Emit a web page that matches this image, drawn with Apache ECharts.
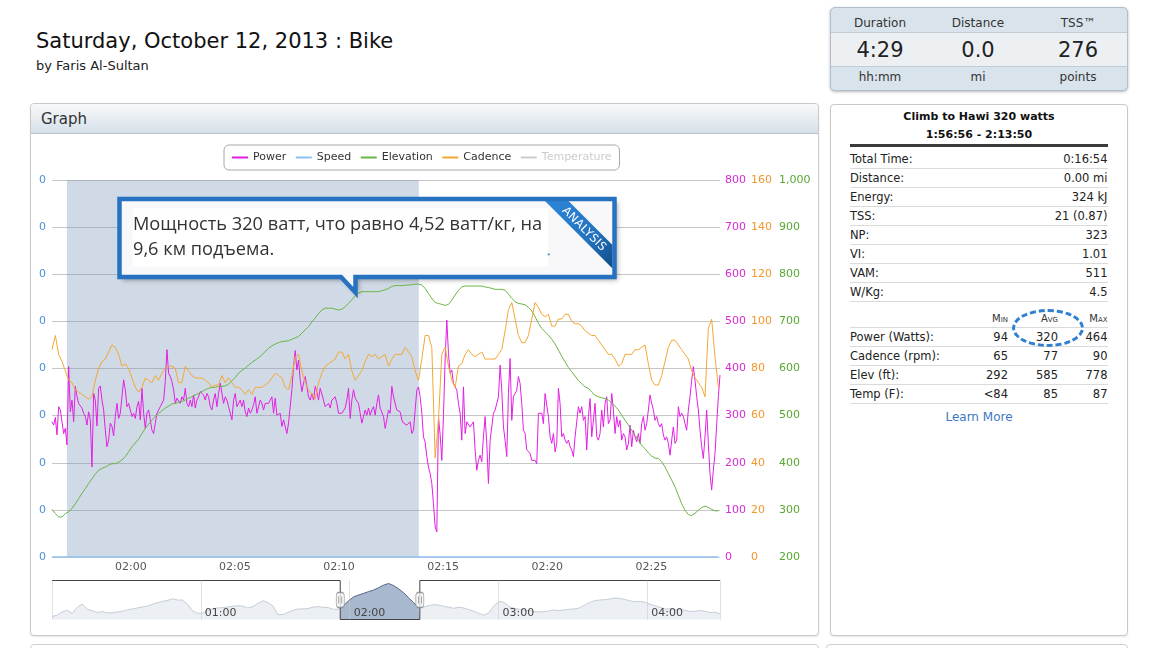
<!DOCTYPE html>
<html>
<head>
<meta charset="utf-8">
<script src="https://cdn.jsdelivr.net/npm/echarts@6.0.0/dist/echarts.min.js"></script>
<style>
html,body{margin:0;padding:0;width:1150px;height:648px;overflow:hidden;background:#fff;font-family:"DejaVu Sans",sans-serif;color:#222;}
.a{position:absolute;white-space:nowrap;}
#title{left:36px;top:31px;font-size:21px;line-height:21px;color:#111;}
#by{left:36px;top:59px;font-size:13px;line-height:13px;color:#222;}
#graphPanel{left:30px;top:103px;width:787px;height:531px;border:1px solid #c9c9c9;border-radius:4px;box-shadow:0 1px 2px rgba(0,0,0,0.10);background:#fff;}
#graphHead{position:absolute;left:0;top:0;width:777px;height:29px;padding-left:10px;border-bottom:1px solid #b7c3ce;border-radius:4px 4px 0 0;background:linear-gradient(#f7f9fa,#d6e0e9);font-size:15px;line-height:30px;color:#333;}
#stats{left:830px;top:7px;width:296px;height:82px;border:1px solid #b3bec8;border-radius:5px;background:#d9e3ec;box-shadow:0 1px 3px rgba(0,0,0,0.28);overflow:hidden;}
#statsMid{position:absolute;left:0;top:24px;width:296px;height:33px;background:#edf0f3;border-top:1px solid #c2ccd5;border-bottom:1px solid #c2ccd5;}
.sc{position:absolute;width:98px;text-align:center;}
.sh{top:7px;font-size:12px;line-height:16px;color:#333;}
.sn{top:29px;font-size:21px;line-height:26px;color:#222;}
.su{top:61px;font-size:12px;line-height:16px;color:#333;}
#side{left:830px;top:104px;width:296px;height:530px;border:1px solid #c9c9c9;border-radius:4px;box-shadow:0 1px 2px rgba(0,0,0,0.10);background:#fff;}
.st{left:830px;width:298px;text-align:center;font-weight:bold;font-size:11px;line-height:18px;color:#111;}
#rule{left:850px;top:144px;width:258px;height:3px;background:#3a3a3a;}
.row{position:absolute;left:850px;width:258px;height:18px;line-height:18px;border-bottom:1px solid #dadada;font-size:11.5px;color:#222;white-space:nowrap;}
.row span{position:absolute;top:0;}
.r0{right:0.5px;}
.c1{right:100px;}.c2{right:50px;}.c3{right:0.5px;}
.hdr{font-size:10px;font-variant:small-caps;color:#333;}
#learn{left:830px;width:298px;top:408px;text-align:center;font-size:12px;line-height:18px;color:#3b78c2;}
#ellipse{left:1012px;top:309px;width:72px;height:38px;box-sizing:border-box;border:3px dashed #2f80d2;border-radius:50%;z-index:3;}
.nextp{position:absolute;top:644px;height:20px;border:1px solid #cfcfcf;border-radius:4px;background:#fff;}
#chart{position:absolute;left:0;top:0;width:1150px;height:648px;z-index:1;}
#callout{position:absolute;left:0;top:0;z-index:2;pointer-events:none;}
</style>
</head>
<body>
<div class="a" id="title">Saturday, October 12, 2013 : Bike</div>
<div class="a" id="by">by Faris Al-Sultan</div>

<div class="a" id="graphPanel"><div id="graphHead">Graph</div></div>

<div class="a" id="stats">
  <div id="statsMid"></div>
  <div class="sc sh" style="left:0">Duration</div>
  <div class="sc sh" style="left:98px">Distance</div>
  <div class="sc sh" style="left:198px">TSS™</div>
  <div class="sc sn" style="left:0">4:29</div>
  <div class="sc sn" style="left:98px">0.0</div>
  <div class="sc sn" style="left:198px">276</div>
  <div class="sc su" style="left:0">hh:mm</div>
  <div class="sc su" style="left:98px">mi</div>
  <div class="sc su" style="left:198px">points</div>
</div>

<div class="a" id="side"></div>
<div class="a st" style="top:108px">Climb to Hawi 320 watts</div>
<div class="a st" style="top:126px">1:56:56 - 2:13:50</div>
<div class="a" id="rule"></div>
<div class="row" style="top:149.5px">Total Time:<span class="r0">0:16:54</span></div>
<div class="row" style="top:168.5px">Distance:<span class="r0">0.00 mi</span></div>
<div class="row" style="top:187.5px">Energy:<span class="r0">324 kJ</span></div>
<div class="row" style="top:206.5px">TSS:<span class="r0">21 (0.87)</span></div>
<div class="row" style="top:225.5px">NP:<span class="r0">323</span></div>
<div class="row" style="top:244.5px">VI:<span class="r0">1.01</span></div>
<div class="row" style="top:263.5px">VAM:<span class="r0">511</span></div>
<div class="row" style="top:282.5px">W/Kg:<span class="r0">4.5</span></div>
<div class="row" style="top:310px;height:17px;line-height:17px;"><span class="c1 hdr">Min</span><span class="c2 hdr">Avg</span><span class="c3 hdr">Max</span></div>
<div class="row" style="top:328px">Power (Watts):<span class="c1">94</span><span class="c2">320</span><span class="c3">464</span></div>
<div class="row" style="top:347px">Cadence (rpm):<span class="c1">65</span><span class="c2">77</span><span class="c3">90</span></div>
<div class="row" style="top:366px">Elev (ft):<span class="c1">292</span><span class="c2">585</span><span class="c3">778</span></div>
<div class="row" style="top:385px">Temp (F):<span class="c1">&lt;84</span><span class="c2">85</span><span class="c3">87</span></div>
<div class="a" id="learn">Learn More</div>
<div class="a" id="ellipse"></div>

<div class="nextp" style="left:30px;width:787px;"></div>
<div class="nextp" style="left:826px;width:300px;"></div>

<div id="chart"></div>

<svg id="callout" width="1150" height="648" xmlns="http://www.w3.org/2000/svg">
  <defs>
    <filter id="sh" x="-5%" y="-15%" width="112%" height="140%">
      <feDropShadow dx="3" dy="3" stdDeviation="2.5" flood-color="#000" flood-opacity="0.35"/>
    </filter>
    <linearGradient id="rib" gradientUnits="userSpaceOnUse" x1="552" y1="204" x2="612" y2="264">
      <stop offset="0" stop-color="#2c84d6"/>
      <stop offset="0.6" stop-color="#2373bf"/>
      <stop offset="1" stop-color="#134f8c"/>
    </linearGradient>
  </defs>
  <path d="M119.5,199 H614.5 V277 H355.5 V292.5 L341,277 H119.5 Z" fill="#f8f8fa" filter="url(#sh)"/>
  <rect x="132.7" y="208.3" width="415.6" height="58.4" fill="#ffffff"/>
  <polygon points="545,201 568.5,201 612.5,245 612.5,268.5" fill="url(#rib)"/>
  <text transform="translate(584.8,228.6) rotate(45)" text-anchor="middle" dominant-baseline="central" font-family="DejaVu Sans" font-size="11.5" letter-spacing="0.4" fill="#ffffff">ANALYSIS</text>
  <rect x="547.8" y="253.5" width="1.8" height="1.8" fill="#3a7cc0"/>
  <text x="133" y="229.5" font-family="Open Sans" font-size="18.2" fill="#333">Мощность 320 ватт, что равно 4,52 ватт/кг, на</text>
  <text x="133" y="255" font-family="Open Sans" font-size="18.2" fill="#333">9,6 км подъема.</text>
  <path d="M119.5,199 H614.5 V277 H355.5 V292.5 L341,277 H119.5 Z" fill="none" stroke="#2672c0" stroke-width="4.5" stroke-linejoin="miter"/>
</svg>

<script>
// ---------------- data ----------------
const SERIES_START = '1:56:13';          // time of the first sample in the zoomed window
const SELECTION = ['1:56:56', '2:13:50']; // "Climb to Hawi 320 watts"
const POWER_STEP_S = 4.8;
const SLOW_STEP_S = 9.6;                 // cadence and elevation sampling
const SPEED_STEP_S = 60;
const TEMP_STEP_S = 300;
const NAV_STEP_S = 121.5;                // whole-ride elevation in the navigator

const POWER_W = [
 287,280,296,259,319,312,313,262,273,238,404,308,333,287,362,340,326,326,316,305,
 298,280,308,291,191,347,333,278,358,363,333,312,269,234,248,284,277,257,298,326,
 294,305,340,376,355,319,326,312,298,305,294,319,330,291,358,305,273,305,312,291,
 269,262,284,305,308,319,316,333,372,440,390,383,372,355,326,337,340,326,340,333,
 358,326,319,333,319,344,316,333,340,351,351,344,333,347,340,319,312,333,347,319,
 347,369,347,326,340,333,319,305,291,333,347,319,323,333,319,333,308,298,316,305,
 312,323,340,305,319,333,326,312,326,330,326,333,340,305,337,301,298,305,277,291,
 277,262,284,319,355,404,438,397,418,376,351,369,383,362,340,333,347,333,362,351,
 333,358,358,333,319,319,326,316,333,337,340,326,305,301,305,301,316,333,358,294,
 333,355,337,333,326,305,284,298,312,301,316,301,312,319,301,326,344,316,312,298,
 273,291,312,305,362,340,337,312,316,308,291,284,287,280,277,
 287,262,269,312,354,361,340,305,255,244,213,191,177,156,113,64,53,297,260,205,
 300,420,503,432,390,397,368,365,354,326,305,248,361,262,287,283,276,273,287,227,
 184,205,216,202,255,298,241,156,248,276,305,312,308,340,407,354,276,248,213,347,
 421,290,340,340,354,383,368,326,269,262,227,223,220,205,202,205,198,305,305,305,
 283,347,344,298,255,241,262,223,241,358,326,255,262,248,241,248,234,227,213,255,
 251,319,305,319,290,298,227,298,336,255,290,326,255,248,262,312,276,326,340,283,
 290,347,312,262,298,276,290,248,262,255,227,241,280,234,269,255,244,262,241,283,
 298,269,283,312,344,326,312,290,298,283,276,283,259,248,255,241,216,248,276,241,
 248,319,298,305,298,283,269,312,340,375,404,375,340,312,269,234,209,255,312,241,
 177,142,184,220,223,340,386
];

const CADENCE_RPM = [
 88,94,86,83,79,75,74,71,70,69,68,67,68,75,80,83,84,87,90,89,
 86,81,82,80,76,72,70,72,76,75,74,77,75,78,80,81,81,80,74,74,
 81,79,77,76,76,76,75,74,72,73,73,77,74,76,74,72,72,71,69,71,
 69,72,72,72,73,74,76,78,77,76,72,71,77,85,86,79,74,71,69,67,
 74,78,81,82,83,84,87,87,84,86,79,75,77,79,83,86,85,86,84,85,
 86,81,84,86,86,86,89,87,
 85,79,75,84,94,94,89,42,58,86,89,81,75,72,81,82,86,88,86,85,
 86,87,84,84,84,84,86,88,96,105,108,101,94,91,91,94,101,108,106,103,
 102,103,98,98,101,101,103,103,100,99,99,98,96,95,94,94,92,90,88,86,
 86,84,81,82,86,86,86,88,88,89,90,82,75,73,73,77,83,89,92,92,
 90,88,86,84,79,76,74,72,68,97,101,85,72
];

const ELEVATION_FT = [
 301,292,285,285,292,296,303,313,324,335,345,356,366,376,384,388,391,395,398,398,
 401,406,413,423,434,442,450,462,473,482,491,498,505,510,516,520,525,526,528,530,
 533,537,540,544,547,551,555,558,560,560,562,562,563,567,574,581,590,596,601,607,
 613,618,623,629,636,643,648,652,655,657,658,659,662,665,668,675,682,689,699,707,
 717,724,728,728,728,726,724,726,731,738,746,754,760,763,763,763,763,763,763,765,
 767,770,774,776,776,776,777,777,
 778,779,779,777,770,759,749,740,738,736,734,736,745,756,766,773,775,775,775,775,
 775,775,773,772,770,768,768,768,766,758,749,742,738,737,735,730,722,710,696,685,
 678,671,662,652,639,626,614,602,593,584,574,568,561,558,550,543,540,538,536,533,
 527,520,512,501,490,480,469,458,448,437,430,421,414,410,409,402,391,377,363,349,
 331,313,299,290,288,293,299,305,308,305,301,298,298
];

const SPEED_MPH = [
 0,0,0,0,0,0,0,0,0,0,0,0,0,0,0,0,0,0,0,0,0,0,0,0,0,0,0,0,0,0,0,0,0
];

const TEMPERATURE_F = [84, 85, 85, 85, 86, 86, 87];

const NAV_ELEVATION_FT = [
 147,172,234,266,209,316,384,284,259,222,241,216,216,234,247,272,291,309,328,347,
 378,409,434,453,484,459,459,378,253,209,209,266,297,309,316,328,341,353,341,309,
 334,397,447,409,347,184,184,222,266,291,291,297,328,334,322,316,284,284,347,441,
 516,553,584,616,647,691,741,772,
 734,672,597,503,409,316,328,353,372,366,341,322,303,322,309,278,247,203,172,222,
 347,434,416,334,303,284,272,259,241,234,241,253,272,259,272,284,291,309,359,409,
 447,459,466,478,497,491,472,447,428,434,422,384,353,322,291,291,278,278,266,241,
 247,259,247,222,228,197
];

const LEGEND_NAMES = ['Power', 'Speed', 'Elevation', 'Cadence', 'Temperature'];
const NAV_Y_RANGE = [90, 830];

// ---------------- helpers ----------------
function toSec(s) { const p = s.split(':').map(Number); return p[0] * 3600 + p[1] * 60 + p[2]; }
function pad(n) { return (n < 10 ? '0' : '') + n; }
function hhmm(sec) { return pad(Math.floor(sec / 3600)) + ':' + pad(Math.floor((sec % 3600) / 60)); }
const t0 = toSec(SERIES_START);
function series(values, step) { return values.map((v, i) => [Math.round((t0 + i * step) * 1000), v]); }

const winStart = t0;
const winEnd = t0 + (POWER_W.length - 1) * POWER_STEP_S;
const selStart = toSec(SELECTION[0]);
const selEnd = toSec(SELECTION[1]);
const navEnd = (NAV_ELEVATION_FT.length - 1) * NAV_STEP_S;

const navFull = NAV_ELEVATION_FT.map((v, i) => [i * NAV_STEP_S, v]);
function navAt(t) {
  const f = t / NAV_STEP_S, i = Math.floor(f);
  const a = NAV_ELEVATION_FT[i], b = NAV_ELEVATION_FT[Math.min(i + 1, NAV_ELEVATION_FT.length - 1)];
  return a + (b - a) * (f - i);
}
const navWindow = [[winStart, navAt(winStart)]]
  .concat(navFull.filter(p => p[0] > winStart && p[0] < winEnd))
  .concat([[winEnd, navAt(winEnd)]]);
const navMid = (NAV_Y_RANGE[0] + NAV_Y_RANGE[1]) / 2;

const C = { power: '#e31fe3', speed: '#8ec0ec', elevation: '#68b443', cadence: '#f4a733', temperature: '#cccccc' };

const chart = echarts.init(document.getElementById('chart'), null, { renderer: 'canvas' });
chart.setOption({
  animation: false,
  useUTC: true,
  textStyle: { fontFamily: 'DejaVu Sans' },
  legend: {
    data: LEGEND_NAMES,
    left: 224, top: 145, padding: [7, 8],
    itemGap: 9.5, itemWidth: 16, itemHeight: 2, icon: 'rect',
    borderColor: '#a8a8a8', borderWidth: 1, borderRadius: 5,
    textStyle: { fontSize: 11, color: '#333', fontFamily: 'DejaVu Sans' },
    inactiveColor: '#cccccc',
    selected: { Temperature: false }
  },
  grid: [
    { left: 52, top: 180, width: 668, height: 377 },
    { left: 52, top: 580.5, width: 668, height: 39 }
  ],
  xAxis: [
    {
      type: 'time', gridIndex: 0,
      min: winStart * 1000, max: winEnd * 1000,
      splitNumber: 6, minInterval: 330000, maxInterval: 330000,
      axisLine: { lineStyle: { color: '#c0d0e0', width: 1 } },
      axisTick: { show: false },
      splitLine: { show: false },
      axisLabel: {
        color: '#555', fontSize: 11, margin: 5,
        formatter: function (val) {
          const s = Math.round(val / 1000);
          return (s % 300 === 0) ? hhmm(s) : '';
        }
      }
    },
    {
      type: 'value', gridIndex: 1, min: 0, max: navEnd, interval: 3600, z: 10,
      axisLine: { show: false }, axisTick: { show: false },
      splitLine: { show: true, lineStyle: { color: 'rgba(200,200,200,0.55)' } },
      axisLabel: {
        inside: true, align: 'left', padding: [0, 0, 0, 4], margin: 1,
        color: '#444', fontSize: 11,
        formatter: function (v) { return (v > 0 && v % 3600 === 0) ? hhmm(v) : ''; }
      }
    }
  ],
  yAxis: [
    { type: 'value', gridIndex: 0, position: 'left', min: 0, max: 0.8, interval: 0.1,
      axisLine: { show: false }, axisTick: { show: false }, splitLine: { show: false },
      axisLabel: { color: '#4a90d9', fontSize: 11, margin: 6, formatter: v => String(Math.floor(v)) } },
    { type: 'value', gridIndex: 0, position: 'right', min: 0, max: 800, interval: 100,
      axisLine: { show: false }, axisTick: { show: false },
      splitLine: { show: true, lineStyle: { color: '#c6c6c6', width: 1 } },
      axisLabel: { color: '#d52ad5', fontSize: 11, margin: 5 } },
    { type: 'value', gridIndex: 0, position: 'right', offset: 26, min: 0, max: 160, interval: 20,
      axisLine: { show: false }, axisTick: { show: false }, splitLine: { show: false },
      axisLabel: { color: '#f1972c', fontSize: 11, margin: 5 } },
    { type: 'value', gridIndex: 0, position: 'right', offset: 54, min: 200, max: 1000, interval: 100,
      axisLine: { show: false }, axisTick: { show: false }, splitLine: { show: false },
      axisLabel: { color: '#58a832', fontSize: 11, margin: 5, formatter: v => v.toLocaleString('en-US') } },
    { type: 'value', gridIndex: 0, show: false, min: 0, max: 100 },
    { type: 'value', gridIndex: 1, show: false, min: NAV_Y_RANGE[0], max: NAV_Y_RANGE[1] }
  ],
  series: [
    { name: 'selection', type: 'line', xAxisIndex: 0, yAxisIndex: 1, z: 1, silent: true,
      symbol: 'none', data: [[selStart * 1000, 0]], lineStyle: { width: 0 },
      markArea: { silent: true, itemStyle: { color: 'rgba(118,149,184,0.35)' },
        data: [[{ xAxis: selStart * 1000 }, { xAxis: selEnd * 1000 }]] } },
    { name: 'Power', type: 'line', xAxisIndex: 0, yAxisIndex: 1, symbol: 'none',
      data: series(POWER_W, POWER_STEP_S), color: C.power, lineStyle: { width: 1, color: C.power } },
    { name: 'Speed', type: 'line', xAxisIndex: 0, yAxisIndex: 0, symbol: 'none',
      data: series(SPEED_MPH, SPEED_STEP_S), color: C.speed, lineStyle: { width: 1.5, color: C.speed } },
    { name: 'Elevation', type: 'line', xAxisIndex: 0, yAxisIndex: 3, symbol: 'none',
      data: series(ELEVATION_FT, SLOW_STEP_S), color: C.elevation, lineStyle: { width: 1, color: C.elevation } },
    { name: 'Cadence', type: 'line', xAxisIndex: 0, yAxisIndex: 2, symbol: 'none',
      data: series(CADENCE_RPM, SLOW_STEP_S), color: C.cadence, lineStyle: { width: 1, color: C.cadence } },
    { name: 'Temperature', type: 'line', xAxisIndex: 0, yAxisIndex: 4, symbol: 'none',
      data: series(TEMPERATURE_F, TEMP_STEP_S), color: C.temperature, lineStyle: { width: 1, color: C.temperature } },

    { name: 'nav-all', type: 'line', xAxisIndex: 1, yAxisIndex: 5, symbol: 'none', silent: true,
      data: navFull, lineStyle: { width: 1, color: '#c5cdd7' },
      areaStyle: { color: '#eceff3', opacity: 1, origin: 'start' } },
    { name: 'nav-window', type: 'line', xAxisIndex: 1, yAxisIndex: 5, symbol: 'none', silent: true,
      data: navWindow, lineStyle: { width: 1, color: '#566a8a' },
      areaStyle: { color: '#a8b9cf', opacity: 1, origin: 'start' } },
    { name: 'nav-outline', type: 'line', xAxisIndex: 1, yAxisIndex: 5, symbol: 'none', silent: true, clip: false,
      data: [[0, NAV_Y_RANGE[1]], [winStart, NAV_Y_RANGE[1]], [winStart, NAV_Y_RANGE[0]],
             [winEnd, NAV_Y_RANGE[0]], [winEnd, NAV_Y_RANGE[1]], [navEnd, NAV_Y_RANGE[1]]],
      lineStyle: { width: 1, color: '#444' } },
    { name: 'nav-handles', type: 'scatter', xAxisIndex: 1, yAxisIndex: 5, silent: true, clip: false, z: 12,
      symbol: 'roundRect', symbolSize: [8, 15],
      data: [[winStart, navMid], [winEnd, navMid]],
      itemStyle: { color: '#f3f3f3', borderColor: '#888', borderWidth: 1 } },
    { name: 'nav-grips', type: 'scatter', xAxisIndex: 1, yAxisIndex: 5, silent: true, clip: false, z: 13,
      symbol: 'path://M0,0L0,10M4,0L4,10', symbolSize: [3, 7],
      data: [[winStart, navMid], [winEnd, navMid]],
      itemStyle: { color: 'rgba(0,0,0,0)', borderColor: '#666', borderWidth: 1 } }
  ]
});
</script>
</body>
</html>
